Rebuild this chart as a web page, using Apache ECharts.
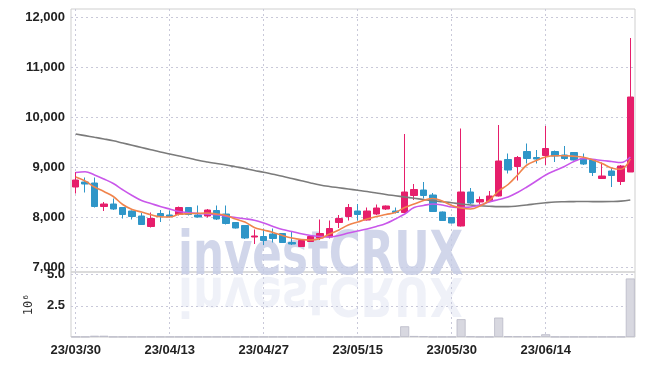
<!DOCTYPE html>
<html style="height: 100%">
<head>
	<meta charset="utf-8">
</head>
<body style="height: 100%; margin: 0; background: #fff">
<div id="container" style="width: 645px; height: 366px"></div>
<script type="text/javascript" src="https://cdn.jsdelivr.net/npm/echarts@6/dist/echarts.min.js"></script>
<script type="text/javascript">
    var dates = ['23/03/30', '23/03/31', '23/04/03', '23/04/04', '23/04/05', '23/04/06', '23/04/07', '23/04/10', '23/04/11', '23/04/12',
        '23/04/13', '23/04/14', '23/04/17', '23/04/18', '23/04/19', '23/04/20', '23/04/21', '23/04/24', '23/04/25', '23/04/26',
        '23/04/27', '23/04/28', '23/05/02', '23/05/03', '23/05/04', '23/05/08', '23/05/09', '23/05/10', '23/05/11', '23/05/12',
        '23/05/15', '23/05/16', '23/05/17', '23/05/18', '23/05/19', '23/05/22', '23/05/23', '23/05/24', '23/05/25', '23/05/26',
        '23/05/30', '23/05/31', '23/06/01', '23/06/02', '23/06/05', '23/06/07', '23/06/08', '23/06/09', '23/06/12', '23/06/13',
        '23/06/14', '23/06/15', '23/06/16', '23/06/19', '23/06/20', '23/06/21', '23/06/22', '23/06/23', '23/06/26', '23/06/27'];

    // open, close, low, high
    var candles = [
        [8600, 8740, 8470, 8900], [8700, 8660, 8490, 8790], [8680, 8210, 8190, 8790], [8210, 8260, 8120, 8300], [8260, 8160, 8140, 8370],
        [8190, 8050, 7970, 8200], [8120, 8010, 7950, 8130], [8020, 7850, 7840, 8080], [7810, 7970, 7790, 8090], [8070, 8020, 7900, 8140],
        [8040, 8010, 7990, 8130], [8050, 8190, 8030, 8210], [8190, 8050, 8030, 8200], [8040, 8000, 7990, 8230], [8020, 8140, 7990, 8160],
        [8130, 7960, 7940, 8230], [8060, 7870, 7850, 8230], [7890, 7780, 7770, 7900], [7830, 7580, 7560, 7840], [7600, 7620, 7460, 7750],
        [7610, 7530, 7440, 7770], [7660, 7570, 7490, 7770], [7670, 7490, 7480, 7680], [7490, 7460, 7440, 7700], [7410, 7530, 7400, 7540],
        [7510, 7610, 7500, 7640], [7580, 7670, 7540, 7950], [7600, 7770, 7570, 7930], [7890, 7970, 7780, 8040], [8010, 8190, 7930, 8260],
        [8120, 8050, 7930, 8260], [7940, 8120, 7930, 8190], [8060, 8180, 8040, 8250], [8160, 8220, 8140, 8230], [8120, 8090, 8070, 8190],
        [8090, 8500, 8090, 9660], [8430, 8550, 8340, 8660], [8540, 8430, 8370, 8700], [8440, 8110, 8100, 8480], [8100, 7930, 7920, 8110],
        [7990, 7880, 7870, 8000], [7820, 8500, 7810, 9770], [8500, 8280, 8260, 8580], [8300, 8350, 8250, 8410], [8310, 8420, 8300, 8520],
        [8420, 9120, 8410, 9840], [9150, 8940, 8870, 9270], [9010, 9190, 8730, 9220], [9310, 9170, 9070, 9470], [9190, 9160, 9070, 9340],
        [9230, 9370, 9040, 9820], [9310, 9220, 9100, 9330], [9240, 9170, 9140, 9420], [9290, 9140, 9130, 9300], [9170, 9060, 9040, 9270],
        [9140, 8890, 8820, 9150], [8770, 8820, 8760, 9090], [8920, 8830, 8600, 8980], [8710, 9020, 8640, 9040], [8900, 10400, 8900, 11580]
    ];

    var ma5 = [8800, 8720, 8600, 8510, 8410, 8250, 8150, 8100, 8045, 8005,
        8000, 8055, 8065, 8075, 8080, 8060, 8030, 7960, 7900, 7790,
        7740, 7690, 7630, 7580, 7550, 7540, 7570, 7660, 7740, 7840,
        7900, 7960, 8010, 8050, 8090, 8190, 8260, 8330, 8370, 8320,
        8230, 8180, 8160, 8220, 8330, 8520, 8650, 8840, 9040, 9130,
        9200, 9225, 9225, 9215, 9195, 9140, 9070, 8980, 8955, 9160];

    var ma20 = [8890, 8905, 8840, 8760, 8670, 8545, 8430, 8330, 8270, 8210,
        8160, 8110, 8085, 8070, 8060, 8045, 8015, 7990, 7965, 7935,
        7880, 7810, 7750, 7710, 7665, 7630, 7610, 7600, 7630, 7680,
        7720, 7760, 7810, 7870, 7960, 8060, 8190, 8230, 8260, 8240,
        8200, 8190, 8200, 8240, 8300, 8350, 8400, 8490, 8600, 8720,
        8840, 8930, 9010, 9110, 9170, 9155, 9130, 9110, 9090, 9200];

    var ma60 = [9660, 9627, 9594, 9561, 9525, 9480, 9435, 9390, 9345, 9300,
        9260, 9220, 9180, 9135, 9100, 9070, 9040, 9005, 8970, 8930,
        8895, 8855, 8815, 8770, 8725, 8680, 8640, 8610, 8585, 8560,
        8535, 8510, 8480, 8450, 8425, 8400, 8375, 8350, 8325, 8305,
        8285, 8260, 8240, 8225, 8215, 8208, 8208, 8220, 8240, 8265,
        8285, 8300, 8305, 8308, 8310, 8308, 8308, 8310, 8318, 8340];

    // volume, millions of shares
    var volume = [0.02, 0.02, 0.1, 0.1, 0.02, 0.02, 0.02, 0.02, 0.02, 0.02,
        0.02, 0.02, 0.02, 0.02, 0.02, 0.02, 0.02, 0.02, 0.02, 0.02,
        0.02, 0.02, 0.02, 0.02, 0.02, 0.02, 0.02, 0.02, 0.02, 0.02,
        0.02, 0.02, 0.02, 0.02, 0.02, 0.86, 0.08, 0.06, 0.02, 0.02,
        0.02, 1.43, 0.05, 0.02, 0.02, 1.56, 0.06, 0.05, 0.05, 0.06,
        0.22, 0.02, 0.02, 0.02, 0.02, 0.02, 0.02, 0.02, 0.02, 4.7];

    var priceTicks = [7000, 8000, 9000, 10000, 11000, 12000];
    var volumeTicks = [2.5, 5.0];

    var labelFont = "'Liberation Sans', Roboto, sans-serif";
    var markFont = "bold 60px 'DejaVu Sans Condensed', 'Liberation Sans', sans-serif";
    var gridLine = {show: true, lineStyle: {color: '#c9c9d9', type: [2, 3], width: 1}};

    function comma(v) {
        return String(v).replace(/\B(?=(\d{3})+(?!\d))/g, ',');
    }

    var dom = document.getElementById("container");
    var myChart = echarts.init(dom, null, {renderer: 'canvas'});
    var option = {
        animation: false,
        backgroundColor: '#fff',
        grid: [
            {left: 71, right: 10, top: 9, height: 263, show: true, borderColor: '#cfcfcf', borderWidth: 1, backgroundColor: 'transparent'},
            {left: 71, right: 10, top: 272, height: 65, show: true, borderColor: '#cfcfcf', borderWidth: 1, backgroundColor: 'transparent'}
        ],
        graphic: [
            {
                type: 'text', x: 178, y: 288, scaleX: 0.807, z: 1,
                style: {text: 'investCRUX', font: markFont, fill: '#c6cce5', opacity: 0.8, verticalAlign: 'bottom'}
            },
            {
                type: 'text', x: 178, y: 265, scaleX: 0.807, scaleY: -0.9, z: 1,
                style: {text: 'investCRUX', font: markFont, fill: '#c6cce5', opacity: 0.28, verticalAlign: 'bottom'}
            }
        ],
        xAxis: [
            {
                type: 'category', gridIndex: 0, data: dates, boundaryGap: true,
                axisLine: {show: false}, axisTick: {show: false}, axisLabel: {show: false},
                splitLine: {show: true, interval: 9, alignWithLabel: true, lineStyle: gridLine.lineStyle}
            },
            {
                type: 'category', gridIndex: 1, data: dates, boundaryGap: true,
                axisLine: {show: false}, axisTick: {show: false, interval: 9, alignWithLabel: true},
                axisLabel: {interval: 9, margin: 7, color: '#222', fontFamily: labelFont, fontWeight: 'bold', fontSize: 13},
                splitLine: {show: true, interval: 9, alignWithLabel: true, lineStyle: gridLine.lineStyle}
            }
        ],
        yAxis: [
            {
                type: 'value', gridIndex: 0, min: 6900, max: 12160, scale: true,
                axisLine: {show: false},
                axisTick: {show: false, customValues: priceTicks},
                axisLabel: {customValues: priceTicks, margin: 6, color: '#222', fontFamily: labelFont, fontWeight: 'bold', fontSize: 13,
                    formatter: function (v) { return comma(v); }},
                splitLine: gridLine
            },
            {
                type: 'value', gridIndex: 1, min: 0, max: 5.22,
                name: '10\u2076', nameLocation: 'middle', nameRotate: 90, nameGap: 36,
                nameTextStyle: {fontFamily: 'DejaVu Sans Mono', fontSize: 12, color: '#333'},
                axisLine: {show: false},
                axisTick: {show: false, customValues: volumeTicks},
                axisLabel: {customValues: volumeTicks, margin: 6, color: '#222', fontFamily: labelFont, fontWeight: 'bold', fontSize: 13,
                    formatter: function (v) { return v.toFixed(1); }},
                splitLine: gridLine
            }
        ],
        series: [
            {
                type: 'candlestick', xAxisIndex: 0, yAxisIndex: 0, data: candles, barWidth: 7, z: 3,
                itemStyle: {color: '#e61e6b', color0: '#2f96c8', borderColor: '#e61e6b', borderColor0: '#2f96c8', borderWidth: 1}
            },
            {
                type: 'line', xAxisIndex: 0, yAxisIndex: 0, data: ma60, symbol: 'none', smooth: 0.4, z: 4,
                lineStyle: {color: '#7b7b7b', width: 1.6}
            },
            {
                type: 'line', xAxisIndex: 0, yAxisIndex: 0, data: ma20, symbol: 'none', smooth: 0.4, z: 4,
                lineStyle: {color: '#c957ea', width: 1.6}
            },
            {
                type: 'line', xAxisIndex: 0, yAxisIndex: 0, data: ma5, symbol: 'none', smooth: 0.4, z: 4,
                lineStyle: {color: '#f0844c', width: 1.6}
            },
            {
                type: 'bar', xAxisIndex: 1, yAxisIndex: 1, data: volume, barWidth: '96%', z: 3,
                itemStyle: {color: '#d8d8e0', borderColor: '#b9b9c6', borderWidth: 0.8}
            }
        ]
    };
    myChart.setOption(option);
</script>
</body>
</html>
